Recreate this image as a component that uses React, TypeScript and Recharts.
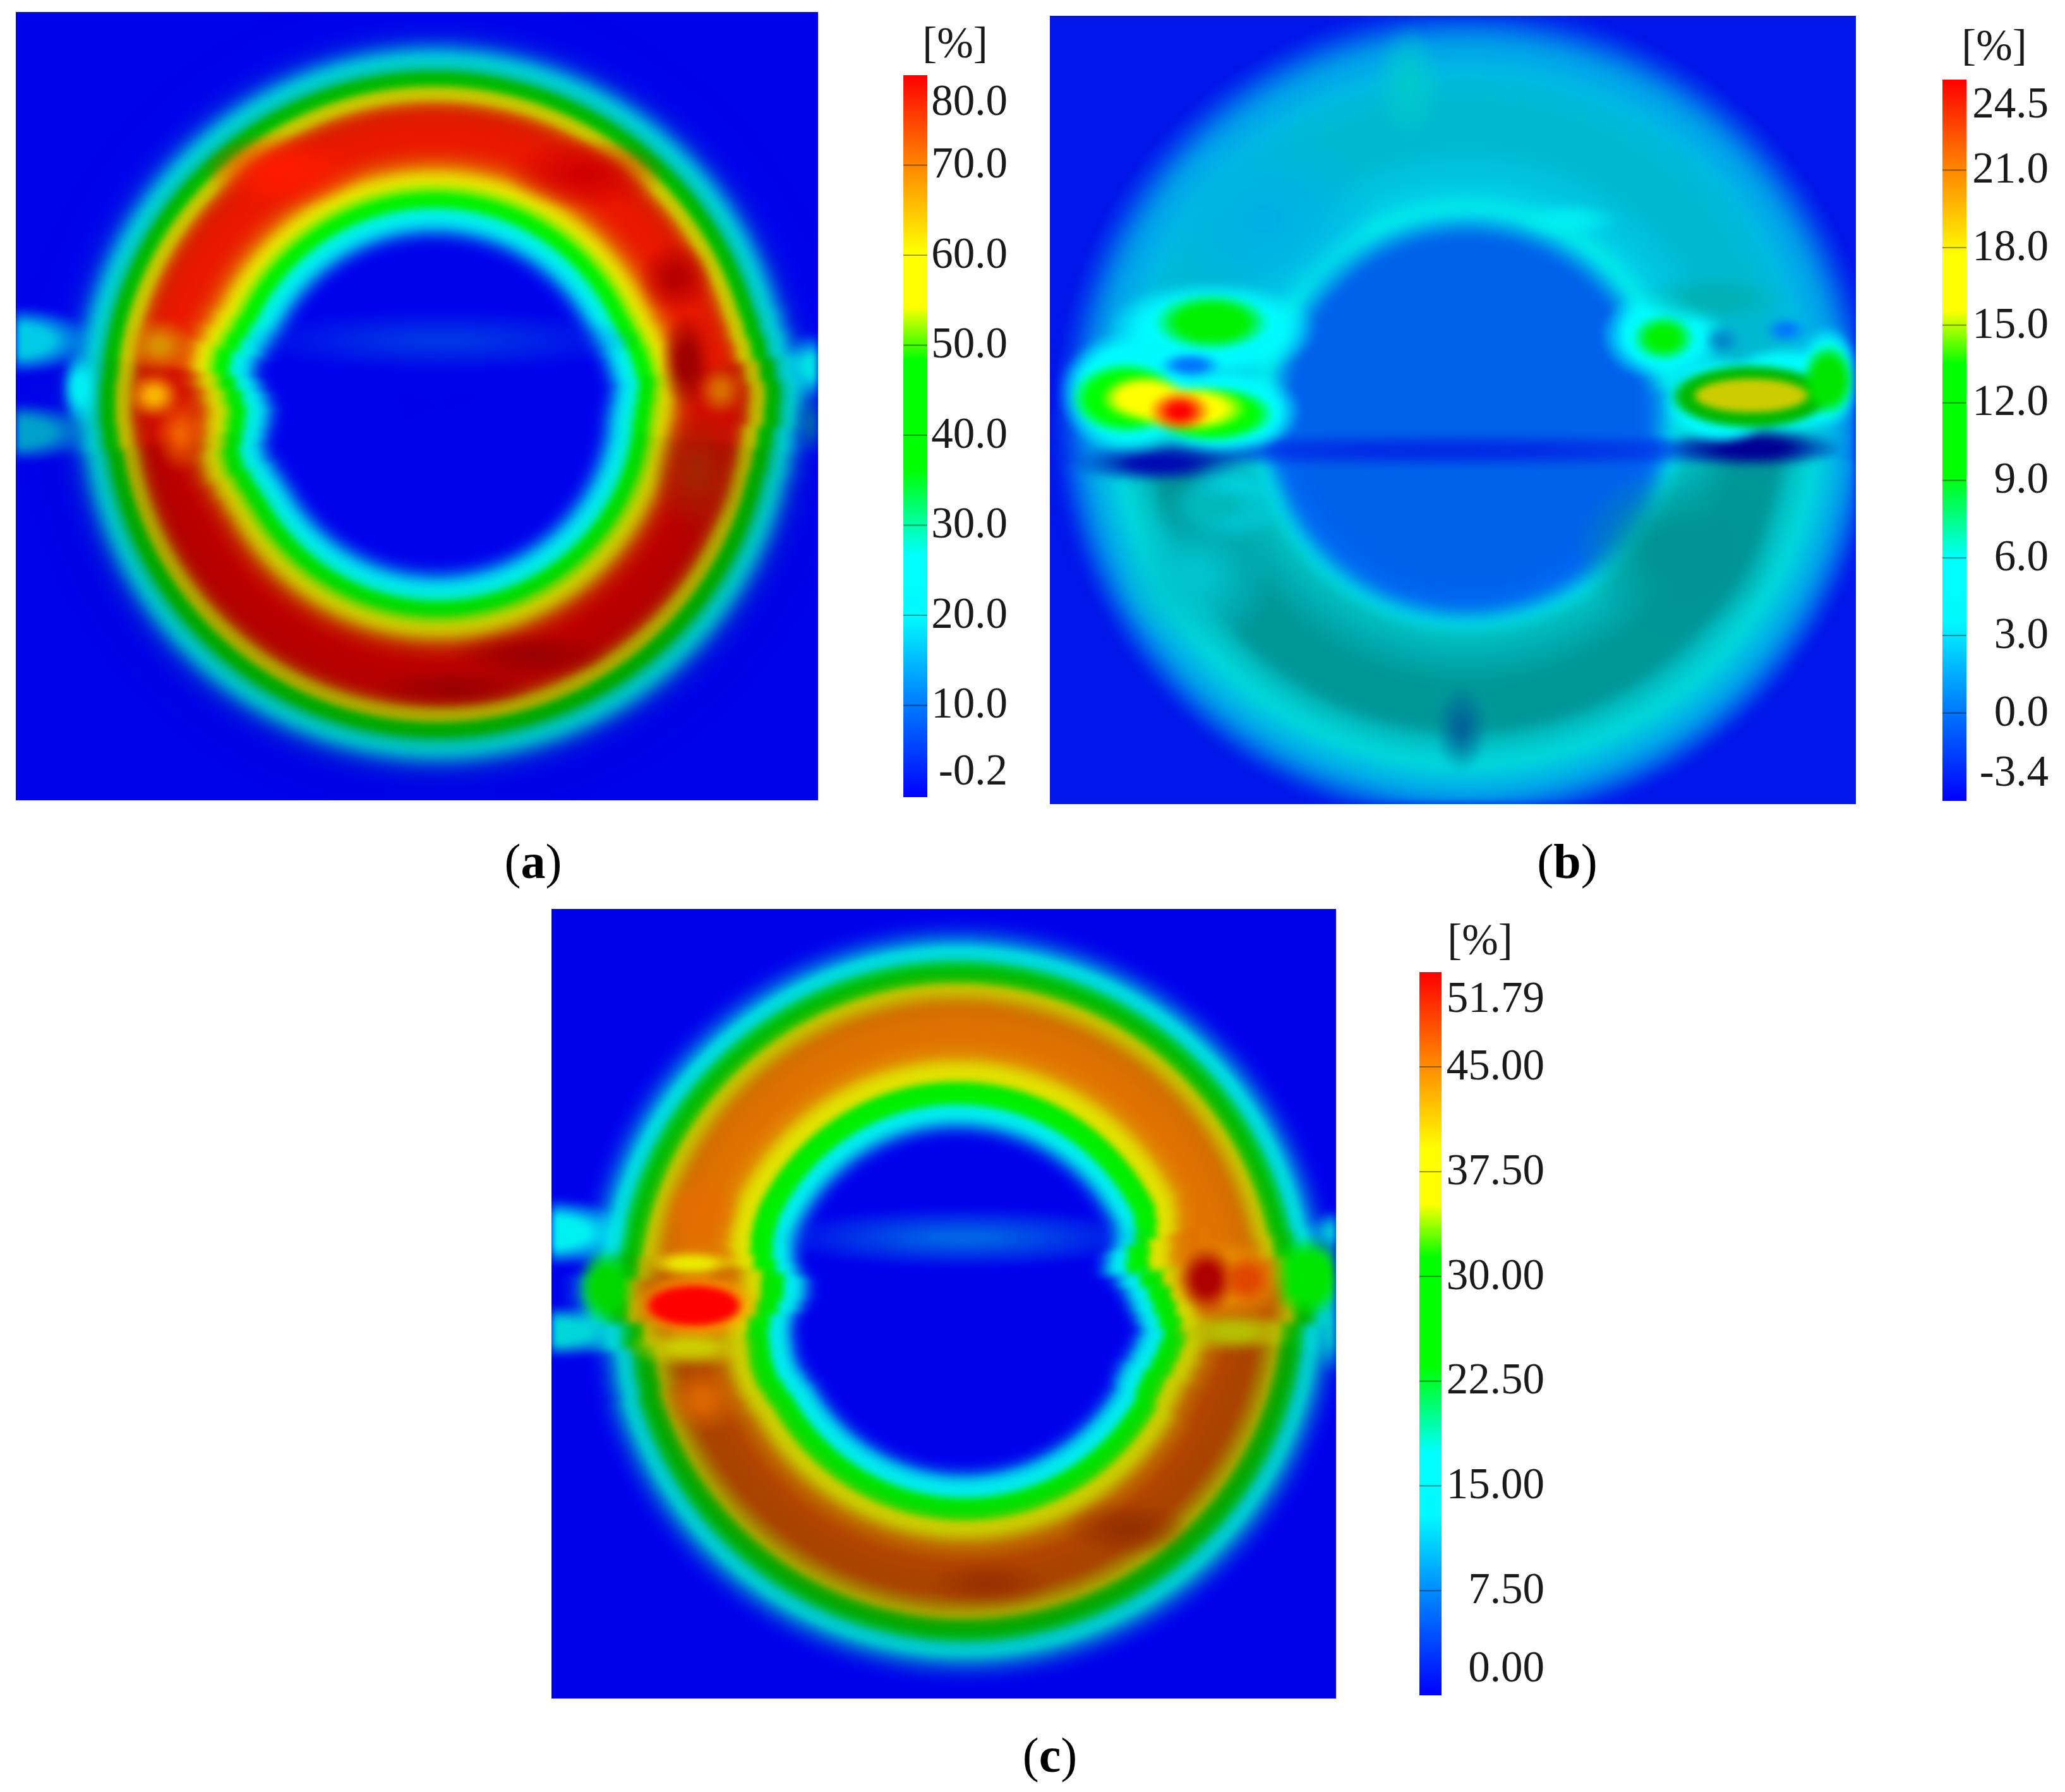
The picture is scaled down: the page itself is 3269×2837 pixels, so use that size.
import React from "react";
import {
  RadialBarChart, RadialBar, PolarAngleAxis, ScatterChart, Scatter, XAxis, YAxis,
  BarChart, Bar,
} from "recharts";

// shared colour scale: fraction of the legend range -> rgb
const scaleStops: [number, number, number, number][] = [
  [0, 0, 0, 255], [0.125, 0, 120, 255], [0.25, 0, 250, 255], [0.335, 0, 255, 255],
  [0.455, 0, 255, 0], [0.605, 0, 255, 0], [0.68, 255, 255, 0], [0.755, 255, 255, 0],
  [0.875, 255, 135, 0], [1, 255, 0, 0],
];

// radial profiles (legend units), one value per 12px ring from the centre outward
const hole = (v: number, n: number) => Array(n).fill(v);
const aTop = [...hole(0, 21), 2, 8, 16, 21, 28, 38, 45, 52, 58, 64, 71, 75, 77, 78, 78, 78, 78, 77, 73, 62, 54, 45, 37, 28, 21, 15, 8, 3, 1, 0.3, 0, 0, 0];
const aBottom = [...hole(0, 21), 2, 8, 16, 21, 28, 38, 45, 52, 58, 64, 72, 77, 79, 80, 80, 80, 80, 79, 75, 63, 55, 46, 38, 29, 21, 15, 8, 3, 1, 0.3, 0, 0, 0];
const bTop = [...hole(-0.3, 23), 0, 1, 2.2, 3.3, 3.6, 3.3, 3, 2.9, 2.9, 2.9, 2.9, 2.9, 2.9, 2.9, 2.9, 2.9, 2.9, 2.9, 2.9, 2.8, 2.7, 2.6, 2.4, 2.1, 1.9, 1.6, 1.1, 0.4, -0.5, -1.4, -2.1];
const bBottom = [...hole(-0.3, 24), -0.2, 0.3, 1.5, 2.8, 3.6, 4.2, 4.2, 4, 4, 4, 4, 4, 4, 4, 4, 4, 4, 4, 4, 4, 4, 3.9, 3.5, 3, 2.5, 2, 1.4, 0.6, -0.4, -1.5, -2.4];
const cTop = [...hole(0, 21), 0.5, 3.5, 9, 14, 16, 25, 28, 31, 36, 38, 41, 44, 45, 45.5, 45.5, 45.5, 45.5, 45.5, 44, 41, 37, 32, 27, 22, 16, 13, 8, 4, 1.5, 0.3, 0, 0, 0];
const cBottom = [...hole(0, 21), 0.5, 3.5, 10, 14, 17, 25, 28, 32, 37, 39, 42, 45, 46, 47, 47, 47, 47, 47, 45, 42, 37, 32, 28, 22, 16, 13, 8, 4, 1.5, 0.3, 0, 0, 0];

// surface brightness sampled at these ring radii
const shadeRadii = [260, 300, 330, 355, 430, 495, 520, 550, 600];
const aTopShade = [0.92, 0.95, 0.95, 0.9, 0.92, 0.8, 0.7, 0.85, 0.92];
const aBottomShade = [0.92, 0.93, 0.85, 0.8, 0.72, 0.68, 0.65, 0.8, 0.9];
const bTopShade = [0.92, 0.92, 0.92, 0.9, 0.82, 0.82, 0.85, 0.9, 0.92];
const bBottomShade = [0.92, 0.95, 0.9, 0.75, 0.6, 0.6, 0.75, 0.85, 0.92];
const cTopShade = [0.92, 0.93, 0.95, 0.88, 0.88, 0.78, 0.72, 0.87, 0.92];
const cBottomShade = [0.92, 0.93, 0.88, 0.8, 0.68, 0.65, 0.65, 0.8, 0.92];

// sideways ring displacement near the joint, one value per 4° from 28° above to 28° below it
const aInnerLeft = [0, -4, -10, -18, -18, -8, 4, 10, 6, -4, -12, -12, -6, -2];
const aInnerRight = [0, 2, 6, 10, 12, 12, 8, 4, 2, 0, 0, 0, 0, 0];
const aOuterLeft = [0, 0, 0, 0, 0, -2, -4, -4, -2, 0, 0, 0, 0, 0];
const aOuterRight = [0, 0, 0, 2, 6, 12, 18, 16, 8, 2, 0, 0, 0, 0];
const cInnerLeft = [0, 2, 5, 10, 20, 30, 30, 22, 8, -4, -6, -8, -8, -4];
const cInnerRight = [0, -6, -14, -32, -38, -26, -14, -6, 4, 8, 4, 0, -6, -6];
const cOuterLeft = [0, 0, 0, 0, 0, -10, -28, -24, -2, 6, 4, 0, 0, 0];
const cOuterRight = [0, 0, 0, 0, 4, 16, 30, 24, 6, 0, 0, 0, 0, 0];

// local features: x, y, width, height (panel units), value, brightness, solid core %
type Blob = number[];
const aBlobs: Blob[] = [
  [30, 650, 300, 130, 18, 0.9, 45], [30, 825, 300, 115, 16, 0.8, 45], [150, 740, 70, 140, 22, 0.95, 35],
  [1530, 700, 130, 130, 20, 0.9, 30], [1530, 810, 90, 120, 11, 0.7, 20],
  [830, 650, 760, 120, 5, 0.9, 10],
  [530, 326, 300, 150, 78, 1, 10], [1100, 332, 300, 140, 80, 0.82, 10], [1270, 530, 140, 140, 80, 0.72, 20],
  [300, 660, 130, 110, 67, 0.85, 20], [290, 755, 100, 90, 66, 0.98, 25], [340, 830, 100, 150, 72, 0.95, 10],
  [1310, 900, 170, 240, 76, 0.65, 15], [1290, 690, 100, 190, 80, 0.62, 30], [1355, 745, 90, 100, 70, 0.85, 20],
  [1000, 1250, 300, 90, 80, 0.6, 10], [850, 1315, 300, 80, 80, 0.6, 10],
];
const bBlobs: Blob[] = [
  [430, 420, 420, 360, 2.1, 0.9, 10], [1200, 1050, 380, 320, 4, 0.58, 20], [300, 1100, 300, 280, 3.4, 0.8, 15],
  [780, 860, 1500, 70, -2, 0.9, 25], [1350, 855, 340, 80, -3.4, 0.58, 35], [230, 885, 340, 75, -3, 0.7, 30],
  [700, 160, 130, 230, 4.5, 0.8, 10], [800, 1390, 100, 170, 1.2, 0.6, 10], [1000, 420, 200, 70, 4, 0.95, 25],
  [370, 955, 210, 160, 3.2, 0.9, 30], [340, 965, 220, 90, 5.5, 0.72, 25],
  [330, 630, 400, 190, 4.2, 1, 65], [180, 750, 280, 240, 4.2, 1, 70], [350, 785, 300, 170, 4.2, 1, 70],
  [170, 760, 210, 140, 11, 1, 70], [330, 790, 240, 110, 11, 1, 70], [330, 615, 220, 110, 11, 0.95, 60], [290, 697, 120, 50, 0, 1, 40],
  [205, 760, 170, 90, 17, 1, 60], [285, 780, 230, 90, 17, 1, 60], [270, 785, 120, 80, 24.5, 1, 30],
  [1180, 640, 240, 180, 4.2, 1, 60], [1180, 645, 120, 90, 10, 0.95, 50], [1270, 570, 280, 100, 5, 0.7, 25],
  [1410, 630, 80, 50, 0, 1, 30], [1290, 650, 70, 60, 1.5, 0.8, 30],
  [1290, 765, 220, 170, 4.2, 1, 75], [1410, 745, 260, 170, 4.2, 1, 75], [1490, 720, 120, 200, 6, 1, 65],
  [1345, 757, 310, 125, 11, 0.72, 85], [1490, 725, 100, 140, 11, 0.9, 60],
  [1345, 755, 225, 68, 16, 0.8, 88],
];
const cBlobs: Blob[] = [
  [30, 640, 300, 130, 16, 0.95, 45], [30, 830, 320, 100, 15, 0.85, 45], [1510, 830, 120, 170, 15, 0.8, 30], [1510, 640, 120, 90, 14, 0.85, 30],
  [800, 650, 720, 120, 6, 0.9, 15],
  [130, 745, 110, 150, 27, 0.85, 50], [1450, 725, 150, 160, 26, 0.9, 55],
  [310, 600, 150, 140, 46, 0.9, 20], [310, 960, 150, 130, 46, 0.85, 20],
  [290, 700, 180, 50, 37, 0.92, 40], [290, 860, 250, 80, 36, 0.8, 30],
  [300, 780, 250, 130, 44, 1, 60], [295, 780, 190, 85, 51.79, 1, 82],
  [1310, 830, 240, 80, 35, 0.75, 30], [1300, 730, 240, 150, 44, 0.9, 50],
  [1260, 730, 110, 130, 51.79, 0.68, 40], [1335, 730, 100, 100, 48, 0.88, 40],
  [1110, 1205, 240, 110, 48, 0.58, 10], [850, 1310, 240, 90, 48, 0.6, 10],
];

const aTicks = [-0.2, 10, 20, 30, 40, 50, 60, 70, 80];
const bTicks = [-3.4, 0, 3, 6, 9, 12, 15, 18, 21, 24.5];
const cTicks = [0, 7.5, 15, 22.5, 30, 37.5, 45, 51.79];

const SERIF = "'Liberation Serif', serif";
const LEGEND_FONT = 69;

function rgbAt(t: number): number[] {
  const x = Math.min(1, Math.max(0, t));
  for (let i = 1; i < scaleStops.length; i++) {
    if (x <= scaleStops[i][0]) {
      const a = scaleStops[i - 1], b = scaleStops[i];
      const f = (x - a[0]) / (b[0] - a[0]);
      return [1, 2, 3].map((k) => a[k] + (b[k] - a[k]) * f);
    }
  }
  return scaleStops[scaleStops.length - 1].slice(1);
}
function colour(v: number, min: number, max: number, shade = 1) {
  const c = rgbAt((v - min) / (max - min)).map((n) => Math.round(n * shade));
  return `rgb(${c[0]},${c[1]},${c[2]})`;
}
function shadeFor(r: number, knots: number[]) {
  if (r <= shadeRadii[0]) return knots[0];
  for (let i = 1; i < shadeRadii.length; i++) {
    if (r <= shadeRadii[i]) {
      const f = (r - shadeRadii[i - 1]) / (shadeRadii[i] - shadeRadii[i - 1]);
      return knots[i - 1] + (knots[i] - knots[i - 1]) * f;
    }
  }
  return knots[knots.length - 1];
}
const mean = (a: number[], b: number[]) => a.map((v, i) => (v + b[i]) / 2);

const RING = 12;
const SPLIT = 36; // ring index in the middle of the hot band
const KINK_STEP = 4;
const KINK_START = -28;

function Half({ w, h, cx, cy, profile, knots, min, max, from, to, i0 = 0, i1 }: any) {
  const end = i1 ?? profile.length;
  const rows = profile.slice(i0, end).map((v: number, i: number) => {
    const fill = colour(v, min, max, shadeFor(RING * (i + i0) + RING / 2, knots));
    return { ring: i + i0, sweep: 1, fill, stroke: fill };
  });
  return (
    <div style={{ position: "absolute", left: 0, top: 0 }}>
      <RadialBarChart
        width={w} height={h} cx={cx} cy={cy} data={rows}
        innerRadius={RING * i0} outerRadius={RING * end}
        startAngle={from} endAngle={to} barCategoryGap={0} barGap={0}
        margin={{ top: 0, right: 0, bottom: 0, left: 0 }}
      >
        <PolarAngleAxis type="number" domain={[0, 1]} tick={false} axisLine={false} />
        <RadialBar dataKey="sweep" isAnimationActive={false} />
      </RadialBarChart>
    </div>
  );
}

function Blobs({ id, w, h, blobs, dx, dy, min, max }: any) {
  const data = blobs.map((b: Blob, i: number) => ({ key: i, x: b[0], y: b[1], bw: b[2], bh: b[3], v: b[4], s: b[5], core: b[6] }));
  const kx = w / (dx[1] - dx[0]);
  const ky = h / (dy[1] - dy[0]);
  const shape = (p: any) => {
    const d = p.payload;
    const c = colour(d.v, min, max, d.s);
    const gid = `${id}-${d.key}`;
    return (
      <g>
        <radialGradient id={gid}>
          <stop offset="0%" stopColor={c} stopOpacity={1} />
          <stop offset={`${d.core}%`} stopColor={c} stopOpacity={1} />
          <stop offset={`${d.core + (100 - d.core) * 0.5}%`} stopColor={c} stopOpacity={0.5} />
          <stop offset="100%" stopColor={c} stopOpacity={0} />
        </radialGradient>
        <ellipse cx={p.cx} cy={p.cy} rx={(d.bw * kx) / 2} ry={(d.bh * ky) / 2} fill={`url(#${gid})`} />
      </g>
    );
  };
  return (
    <div style={{ position: "absolute", left: 0, top: 0 }}>
      <ScatterChart width={w} height={h} margin={{ top: 0, right: 0, bottom: 0, left: 0 }}>
        <XAxis type="number" dataKey="x" domain={dx} hide allowDataOverflow />
        <YAxis type="number" dataKey="y" domain={dy} reversed hide allowDataOverflow />
        <Scatter data={data} isAnimationActive={false} shape={shape} />
      </ScatterChart>
    </div>
  );
}

function Kinks({ shifts, side, outer, common, top, bottom, mid }: any) {
  return shifts.map((shift: number, i: number) => {
    if (shift === 0) return null;
    const t0 = KINK_START + i * KINK_STEP; // degrees below the joint
    const t1 = t0 + KINK_STEP;
    const set = t1 <= -6 ? top : t0 >= 6 ? bottom : mid;
    const from = side === "left" ? 180 + t0 : -t0;
    const to = side === "left" ? 180 + t1 : -t1;
    return (
      <Half key={`${side}${outer}${i}`} {...common} cx={set.x + shift} profile={set.p} knots={set.k} from={from} to={to}
        i0={outer ? SPLIT : 0} i1={outer ? undefined : SPLIT} />
    );
  });
}

function Field({ id, left, top, w, h, cx, cxB, cy, top1, top2, k1, k2, kinks, blobs, dx, dy, min, max, bgV, bgS }: any) {
  const midP = mean(top1, top2);
  const midK = mean(k1, k2);
  const midX = (cx + cxB) / 2;
  const sets = { top: { p: top1, k: k1, x: cx }, bottom: { p: top2, k: k2, x: cxB }, mid: { p: midP, k: midK, x: midX } };
  const common = { w, h, cy, min, max };
  return (
    <div style={{ position: "absolute", left, top, width: w, height: h, overflow: "hidden", background: colour(bgV, min, max, bgS) }}>
      <div style={{ position: "absolute", left: 0, top: 0, width: w, height: h, filter: "blur(6px)" }}>
        <Half {...common} cx={cx} profile={top1} knots={k1} from={180} to={0} />
        <Half {...common} cx={cxB} profile={top2} knots={k2} from={180} to={360} />
        <Half {...common} cx={midX} profile={midP} knots={midK} from={173} to={187} />
        <Half {...common} cx={midX} profile={midP} knots={midK} from={-7} to={7} />
        {kinks && (
          <>
            <Kinks shifts={kinks[0]} side="left" outer={false} common={common} {...sets} />
            <Kinks shifts={kinks[1]} side="right" outer={false} common={common} {...sets} />
            <Kinks shifts={kinks[2]} side="left" outer={true} common={common} {...sets} />
            <Kinks shifts={kinks[3]} side="right" outer={true} common={common} {...sets} />
          </>
        )}
        <Blobs id={id} w={w} h={h} blobs={blobs} dx={dx} dy={dy} min={min} max={max} />
      </div>
    </div>
  );
}

function Legend({ id, left, top, barW, h, min, max, ticks, labels, right, topShift, botShift, unitX, unitY }: any) {
  const chartW = right - left;
  const tick = (p: any) => {
    const v = p.payload.value;
    const isTop = v === max, isBot = v === min;
    const ty = p.y + (isTop ? topShift : isBot ? -botShift : 0) - 3;
    return (
      <g>
        {!isTop && !isBot && <line x1={0} x2={barW} y1={p.y} y2={p.y} stroke="#000" strokeOpacity={0.4} strokeWidth={2} />}
        <text x={chartW} y={ty} dy="0.33em" textAnchor="end" fontFamily={SERIF} fontSize={LEGEND_FONT} fill="#1a1a1a">
          {labels(v)}
        </text>
      </g>
    );
  };
  return (
    <>
      <div style={{ position: "absolute", left, top }}>
        <BarChart
          width={chartW} height={h} data={[{ name: "scale", span: [min, max] }]}
          barCategoryGap={0} margin={{ top: 0, right: 0, bottom: 0, left: 0 }}
        >
          <defs>
            <linearGradient id={id} x1="0" y1="1" x2="0" y2="0">
              {scaleStops.map((s) => (
                <stop key={s[0]} offset={`${s[0] * 100}%`} stopColor={`rgb(${s[1]},${s[2]},${s[3]})`} />
              ))}
            </linearGradient>
          </defs>
          <XAxis dataKey="name" hide />
          <YAxis
            type="number" orientation="right" domain={[min, max]} ticks={ticks} interval={0}
            width={chartW - barW} axisLine={false} tickLine={false} tick={tick}
          />
          <Bar dataKey="span" fill={`url(#${id})`} isAnimationActive={false} />
        </BarChart>
      </div>
      <div style={{ position: "absolute", left: unitX - 100, width: 200, top: unitY - 46, lineHeight: "80px", textAlign: "center", fontFamily: SERIF, fontSize: LEGEND_FONT, color: "#1a1a1a" }}>[%]</div>
    </>
  );
}

function Caption({ x, y, letter }: any) {
  return (
    <div style={{ position: "absolute", left: x - 100, width: 200, top: y - 54, lineHeight: "100px", textAlign: "center", fontFamily: SERIF, fontSize: 78, color: "#000" }}>
      (<b>{letter}</b>)
    </div>
  );
}

export default function App() {
  return (
    <div style={{ position: "absolute", left: 0, top: 0, width: 3269, height: 2837, background: "#fff", overflow: "hidden" }}>
      <Field id="fa" left={25} top={19} w={1270} h={1248} cx={662} cxB={668} cy={621} top1={aTop} top2={aBottom} k1={aTopShade} k2={aBottomShade}
        kinks={[aInnerLeft, aInnerRight, aOuterLeft, aOuterRight]}
        blobs={aBlobs} dx={[30, 1538]} dy={[23, 1528]} min={-0.2} max={80} bgV={0} bgS={0.92} />
      <Field id="fb" left={1662} top={25} w={1276} h={1248} cx={660} cxB={660} cy={630} top1={bTop} top2={bBottom} k1={bTopShade} k2={bBottomShade}
        blobs={bBlobs} dx={[26, 1542]} dy={[30, 1535]} min={-3.4} max={24.5} bgV={-2.7} bgS={0.92} />
      <Field id="fc" left={873} top={1439} w={1242} h={1250} cx={642} cxB={654} cy={621} top1={cTop} top2={cBottom} k1={cTopShade} k2={cBottomShade}
        kinks={[cInnerLeft, cInnerRight, cOuterLeft, cOuterRight]}
        blobs={cBlobs} dx={[27, 1503]} dy={[23, 1530]} min={0} max={51.79} bgV={0} bgS={0.92} />

      <Legend id="la" left={1430} top={119} barW={38} h={1143} min={-0.2} max={80} ticks={aTicks} labels={(v: number) => v.toFixed(1)}
        right={1595} topShift={43} botShift={40} unitX={1512} unitY={74} />
      <Legend id="lb" left={3075} top={126} barW={38} h={1142} min={-3.4} max={24.5} ticks={bTicks} labels={(v: number) => v.toFixed(1)}
        right={3243} topShift={40} botShift={44} unitX={3157} unitY={78} />
      <Legend id="lc" left={2247} top={1539} barW={35} h={1145} min={0} max={51.79} ticks={cTicks} labels={(v: number) => v.toFixed(2)}
        right={2445} topShift={43} botShift={42} unitX={2343} unitY={1494} />

      <Caption x={844} y={1368} letter="a" />
      <Caption x={2481} y={1368} letter="b" />
      <Caption x={1662} y={2783} letter="c" />
    </div>
  );
}
